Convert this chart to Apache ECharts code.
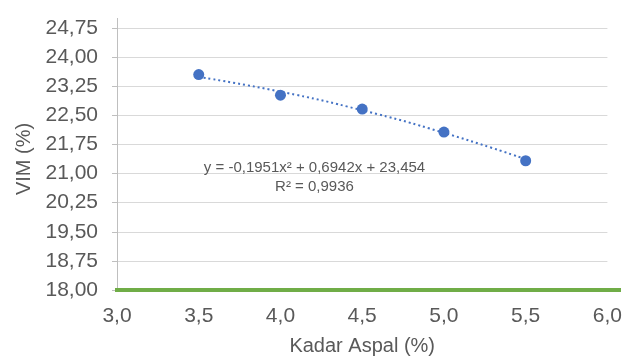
<!DOCTYPE html>
<html><head><meta charset="utf-8">
<script src="https://cdn.jsdelivr.net/npm/echarts@6/dist/echarts.min.js"></script>
<style>html,body{margin:0;padding:0;background:#fff}#c{width:625px;height:361px}</style>
</head><body><div id="c"></div>
<script>
const kadarAspal = [3.5, 4.0, 4.5, 5.0, 5.5];
const vim = [23.55, 23.02, 22.66, 22.07, 21.33];
const trendX = [3.5, 4.0, 4.5, 5.0, 5.5];
const trendY = [23.49, 23.11, 22.63, 22.05, 21.37];
const eqText = 'y = -0,1951x² + 0,6942x + 23,454';
const r2Text = 'R² = 0,9936';

const fmt = (v, d) => v.toFixed(d).replace('.', ',');
const chart = echarts.init(document.getElementById('c'));
chart.setOption({
  animation: false,
  grid: {left: 117, right: 17, top: 28, bottom: 69},
  xAxis: {
    type: 'value', min: 3, max: 6, interval: 0.5,
    name: 'Kadar Aspal (%)', nameLocation: 'middle', nameGap: 46,
    nameTextStyle: {fontFamily: 'Liberation Sans', fontSize: 20, color: '#595959'},
    axisLine: {show: false},
    axisTick: {show: false},
    splitLine: {show: false},
    axisLabel: {fontFamily: 'Liberation Sans', fontSize: 21, color: '#595959', margin: 16, formatter: v => fmt(v, 1)}
  },
  yAxis: {
    type: 'value', min: 18, max: 24.75, interval: 0.75,
    name: 'VIM (%)', nameLocation: 'middle', nameGap: 82,
    nameTextStyle: {fontFamily: 'Liberation Sans', fontSize: 20, color: '#595959'},
    axisLine: {show: true, lineStyle: {color: '#bfbfbf', width: 1}},
    axisTick: {show: true, length: 5, lineStyle: {color: '#bfbfbf'}},
    splitLine: {show: true, lineStyle: {color: '#d9d9d9', width: 1}},
    axisLabel: {fontFamily: 'Liberation Sans', fontSize: 21, color: '#595959', margin: 19, formatter: v => fmt(v, 2)}
  },
  series: [
    {
      type: 'line', data: trendX.map((x, i) => [x, trendY[i]]), smooth: true,
      showSymbol: false, lineStyle: {color: '#4472c4', width: 2, type: [2, 3]}, z: 2
    },
    {
      type: 'scatter', data: kadarAspal.map((x, i) => [x, vim[i]]),
      symbolSize: 11, itemStyle: {color: '#4472c4', opacity: 1}, z: 3
    }
  ]
});
const p0 = chart.convertToPixel({gridIndex: 0}, [3, 18]);
const pTop = chart.convertToPixel({gridIndex: 0}, [3, 24.75]);
chart.setOption({
  graphic: [
    {type: 'line', shape: {x1: Math.round(pTop[0]) + 0.5, y1: pTop[1] - 10, x2: Math.round(pTop[0]) + 0.5, y2: pTop[1]}, style: {stroke: '#bfbfbf', lineWidth: 1}, silent: true, z: 1},
    {type: 'line', shape: {x1: p0[0] - 2, y1: p0[1], x2: 621, y2: p0[1]}, style: {stroke: '#70ad47', lineWidth: 4}, silent: true, z: 10},
    {type: 'text', x: 314.5, y: 160, style: {text: eqText, font: '15px "Liberation Sans"', fill: '#595959', align: 'center'}},
    {type: 'text', x: 314.5, y: 179, style: {text: r2Text, font: '15px "Liberation Sans"', fill: '#595959', align: 'center'}}
  ]
});
</script></body></html>
